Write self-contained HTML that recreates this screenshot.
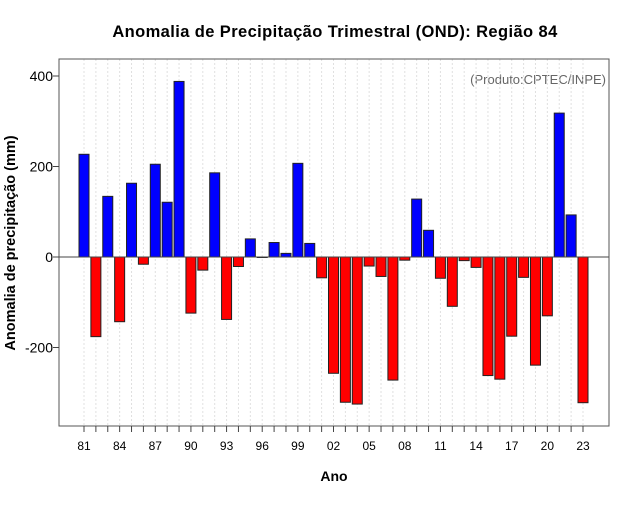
<!DOCTYPE html>
<html><head><meta charset="utf-8"><style>
body{margin:0;background:#fff;font-family:"Liberation Sans",sans-serif}
svg text{font-family:"Liberation Sans",sans-serif}
</style></head><body>
<svg id="chart" width="640" height="500">
<text x="335" y="37" text-anchor="middle" font-size="16.5" font-weight="bold" letter-spacing="0.4">Anomalia de Precipitação Trimestral (OND): Região 84</text>
<text x="334" y="481" text-anchor="middle" font-size="14" font-weight="bold">Ano</text>
<text transform="translate(15,243) rotate(-90)" text-anchor="middle" font-size="14.5" font-weight="bold">Anomalia de precipitação (mm)</text>
<text x="606" y="84" text-anchor="end" font-size="13" fill="#666">(Produto:CPTEC/INPE)</text>
<g id="grid"></g><g id="bars"></g><g id="axes"></g>
</svg>
<script>
const years = [];
for (let y = 1981; y <= 2023; y++) years.push(y);
const values = [227,-176,134,-143,163,-16,205,121,388,-124,-29,186,-138,-21,40,-1,32,8,207,30,-46,-257,-321,-325,-20,-43,-272,-7,128,59,-47,-109,-8,-23,-262,-270,-175,-45,-239,-130,318,93,-322];
const yTicks = [-200,0,200,400];
const xTickLabels = ["81","84","87","90","93","96","99","02","05","08","11","14","17","20","23"];

const NS="http://www.w3.org/2000/svg";
const L=59,R=609,T=59,B=426;
const x=i=>84+i*(583-84)/42;
const y=v=>257-v*0.4525;
function mk(tag,attrs,parent){const e=document.createElementNS(NS,tag);for(const k in attrs)e.setAttribute(k,attrs[k]);parent.appendChild(e);return e;}
const grid=document.getElementById('grid'),bars=document.getElementById('bars'),axes=document.getElementById('axes');
years.forEach((yr,i)=>{
  const g=mk('line',{x1:x(i),x2:x(i),y1:T,y2:B,stroke:'#e0e0e0','stroke-dasharray':'2,2','stroke-width':1},grid);
  
  
});
values.forEach((v,i)=>{
  const top=Math.min(y(v),y(0)),h=Math.abs(y(v)-y(0));
  const r=mk('rect',{x:x(i)-5,y:top,width:10,height:Math.max(h,0.5),fill:v>=0?'#0000ff':'#ff0000',stroke:'#222','stroke-width':1},bars);
  
  
});
const zl=mk('line',{x1:L,x2:R,y1:y(0),y2:y(0),stroke:'#444','stroke-width':1},axes);


const box=mk('rect',{x:L,y:T,width:R-L,height:B-T,fill:'none',stroke:'#555','stroke-width':1},axes);


yTicks.forEach(v=>{
  const t=mk('line',{x1:L-6,x2:L,y1:y(v),y2:y(v),stroke:'#444'},axes);
  
  
  const lb=mk('text',{x:L-6,y:y(v)+5,'text-anchor':'end','font-size':14},axes);
  lb.textContent=v;
  
  
});
years.forEach((yr,i)=>{
  const t=mk('line',{x1:x(i),x2:x(i),y1:B,y2:B+6,stroke:'#444'},axes);
  
  
  const lab=String(yr).slice(2);
  if(xTickLabels.includes(lab)){
    const lb=mk('text',{x:x(i),y:B+24,'text-anchor':'middle','font-size':12},axes);
    lb.textContent=lab;
    
    
  }
});
</script>
</body></html>
